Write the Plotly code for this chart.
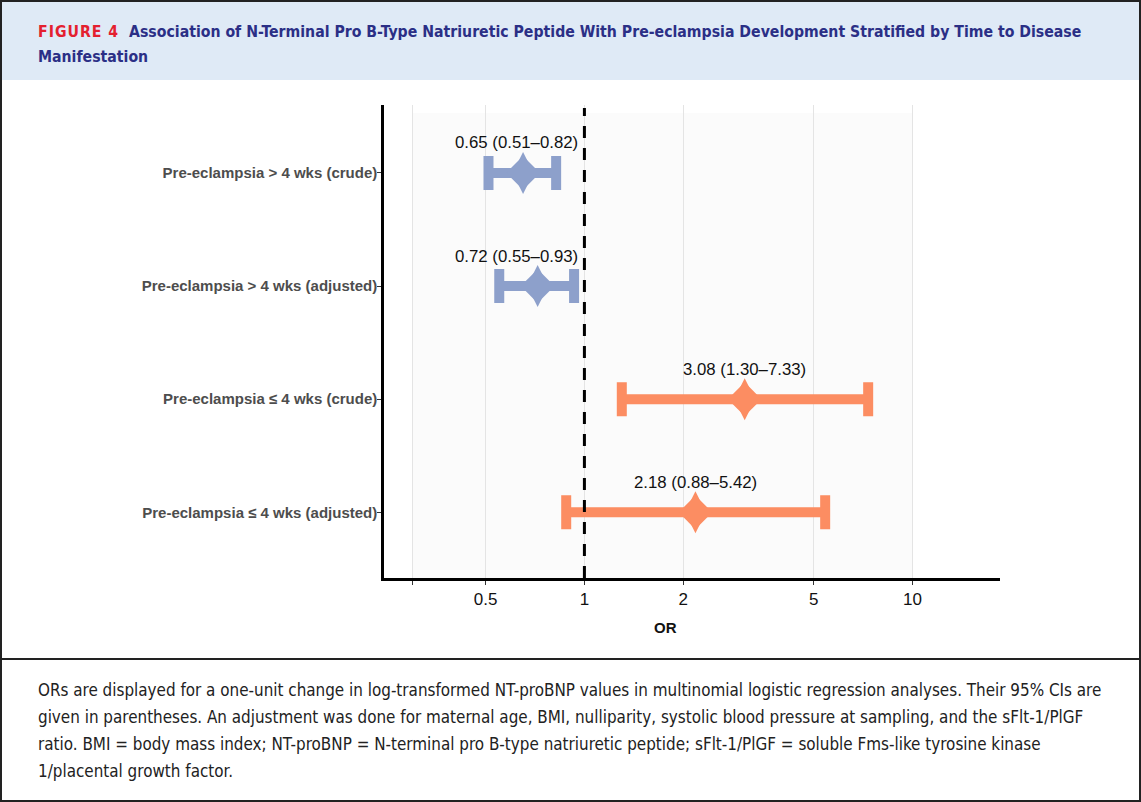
import math
import plotly.graph_objects as go

# ---------------- data ----------------
categories = [
    "Pre-eclampsia > 4 wks (crude)",
    "Pre-eclampsia > 4 wks (adjusted)",
    "Pre-eclampsia ≤ 4 wks (crude)",
    "Pre-eclampsia ≤ 4 wks (adjusted)",
]
odds_ratio = [0.65, 0.72, 3.08, 2.18]
ci_lower = [0.51, 0.55, 1.30, 0.88]
ci_upper = [0.82, 0.93, 7.33, 5.42]
onset_group = ["> 4 wks", "> 4 wks", "≤ 4 wks", "≤ 4 wks"]
x_tickvals = [0.3, 0.5, 1, 2, 5, 10]
x_ticktext = ["", "0.5", "1", "2", "5", "10"]

title_tag = "FIGURE 4"
title_text = ("Association of N-Terminal Pro B-Type Natriuretic Peptide With Pre-eclampsia "
              "Development Stratified by Time to Disease")
title_text2 = "Manifestation"
caption_lines = [
    "ORs are displayed for a one-unit change in log-transformed NT-proBNP values in multinomial logistic regression analyses. Their 95% CIs are",
    "given in parentheses. An adjustment was done for maternal age, BMI, nulliparity, systolic blood pressure at sampling, and the sFlt-1/PlGF",
    "ratio. BMI = body mass index; NT-proBNP = N-terminal pro B-type natriuretic peptide; sFlt-1/PlGF = soluble Fms-like tyrosine kinase",
    "1/placental growth factor.",
]

# ---------------- styling ----------------
W, H = 1141, 802
colors = {"> 4 wks": "#8da0cb", "≤ 4 wks": "#fc8d62"}
X0_PX, X1_PX = 384, 1000
Y_TOP_PX, Y_BOT_PX = 105, 578
LOG_RANGE = [-0.611, 1.267]
SANS = "Arial, Liberation Sans, sans-serif"
NARROW = "Liberation Sans Narrow, DejaVu Sans Condensed, Arial Narrow, sans-serif"


def px_x(px):
    return px / W


def px_y(px):
    return 1 - px / H


def data_x_to_paper(v):
    frac = (math.log10(v) - LOG_RANGE[0]) / (LOG_RANGE[1] - LOG_RANGE[0])
    return px_x(X0_PX + frac * (X1_PX - X0_PX))


fig = go.Figure()

for grp in ["> 4 wks", "≤ 4 wks"]:
    idx = [i for i, g in enumerate(onset_group) if g == grp]
    xs = [odds_ratio[i] for i in idx]
    ys = [categories[i] for i in idx]
    fig.add_trace(go.Scatter(
        x=xs, y=ys, mode="markers",
        marker=dict(symbol="diamond-tall", size=30, color=colors[grp], line=dict(width=0)),
        error_x=dict(type="data", symmetric=False,
                     array=[ci_upper[i] - odds_ratio[i] for i in idx],
                     arrayminus=[odds_ratio[i] - ci_lower[i] for i in idx],
                     color=colors[grp], thickness=10, width=17),
        showlegend=False, hoverinfo="skip",
    ))
    # widen the point estimate diamond
    fig.add_trace(go.Scatter(
        x=xs, y=ys, mode="markers",
        marker=dict(symbol="diamond", size=26, color=colors[grp], line=dict(width=0)),
        showlegend=False, hoverinfo="skip",
    ))

shapes = []
# header band
shapes.append(dict(type="rect", xref="paper", yref="paper", x0=px_x(2), x1=px_x(1139),
                   y0=px_y(80), y1=px_y(2), fillcolor="#dfeaf6", line=dict(width=0), layer="below"))
# panel light background
shapes.append(dict(type="rect", xref="paper", yref="paper",
                   x0=data_x_to_paper(0.3), x1=data_x_to_paper(10),
                   y0=px_y(Y_BOT_PX), y1=px_y(Y_TOP_PX + 8),
                   fillcolor="#fbfbfb", line=dict(width=0), layer="below"))
# reference dashed line at OR = 1
shapes.append(dict(type="line", xref="paper", yref="paper",
                   x0=data_x_to_paper(1), x1=data_x_to_paper(1),
                   y0=px_y(Y_BOT_PX), y1=px_y(Y_TOP_PX + 3),
                   line=dict(color="black", width=3, dash="12px,10px"), layer="above"))
# divider and outer border
shapes.append(dict(type="line", xref="paper", yref="paper", x0=px_x(1), x1=px_x(1140),
                   y0=px_y(659), y1=px_y(659), line=dict(color="#222", width=2)))
shapes.append(dict(type="rect", xref="paper", yref="paper", x0=px_x(1), x1=px_x(1140),
                   y0=px_y(801), y1=px_y(1), line=dict(color="#222", width=2)))

annotations = []
# value labels
for i in range(len(categories)):
    label = f"{odds_ratio[i]:.2f} ({ci_lower[i]:.2f}–{ci_upper[i]:.2f})"
    if ci_upper[i] < 1:
        ax_x, anchor, shift = math.log10(1), "right", -4
    else:
        ax_x, anchor, shift = math.log10(odds_ratio[i]), "center", 0
    annotations.append(dict(x=ax_x, y=categories[i], xref="x", yref="y", text=label,
                            showarrow=False, xanchor=anchor, yanchor="middle", xshift=shift,
                            yshift=30, font=dict(family=SANS, size=16.8, color="#111")))
# x-axis title
annotations.append(dict(x=px_x(665), y=px_y(627), xref="paper", yref="paper", text="<b>OR</b>",
                        showarrow=False, xanchor="center", yanchor="middle",
                        font=dict(family=SANS, size=15, color="#111")))
# header title
annotations.append(dict(x=px_x(36), y=px_y(32), xref="paper", yref="paper",
                        text=(f"<b><span style='color:#e4202f;letter-spacing:1px'>{title_tag}</span>"
                              f"  {title_text}</b>"),
                        showarrow=False, xanchor="left", yanchor="middle",
                        font=dict(family=NARROW, size=15.7, color="#2b2f86")))
annotations.append(dict(x=px_x(36), y=px_y(57), xref="paper", yref="paper",
                        text=f"<b>{title_text2}</b>",
                        showarrow=False, xanchor="left", yanchor="middle",
                        font=dict(family=NARROW, size=15.7, color="#2b2f86")))
# caption
for k, line in enumerate(caption_lines):
    annotations.append(dict(x=px_x(36), y=px_y(690 + 27 * k), xref="paper", yref="paper",
                            text=line, showarrow=False, xanchor="left", yanchor="middle",
                            font=dict(family=NARROW, size=16.9, color="#222")))

fig.update_layout(
    width=W, height=H, autosize=False,
    margin=dict(l=0, r=0, t=0, b=0),
    paper_bgcolor="white", plot_bgcolor="rgba(0,0,0,0)",
    shapes=shapes, annotations=annotations,
    xaxis=dict(type="log", range=LOG_RANGE, domain=[px_x(X0_PX), px_x(X1_PX)],
               tickvals=x_tickvals, ticktext=x_ticktext,
               showgrid=True, gridcolor="#e4e4e4", gridwidth=1,
               showline=True, linecolor="black", linewidth=2.5,
               ticks="outside", ticklen=4, tickcolor="#333", tickwidth=1,
               tickfont=dict(family=SANS, size=17, color="#111"),
               zeroline=False, fixedrange=True),
    yaxis=dict(type="category", categoryorder="array", categoryarray=categories,
               range=[3.58, -0.6], domain=[px_y(Y_BOT_PX), px_y(Y_TOP_PX)],
               showgrid=False, showline=True, linecolor="black", linewidth=2.5,
               ticks="outside", ticklen=4, tickcolor="#333", tickwidth=1,
               ticklabelstandoff=-3,
               tickfont=dict(family=SANS, size=15, color="#4d4d4d", weight="bold"),
               zeroline=False, fixedrange=True),
)

fig.write_html("out.html", config={"displayModeBar": False},
               post_script="document.body.style.margin='0px';")
